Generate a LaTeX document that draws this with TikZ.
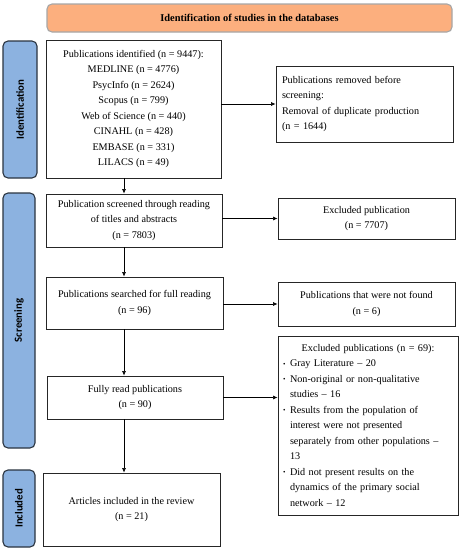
\documentclass[tikz,border=0pt]{standalone}
\usepackage{fontspec}
\setmainfont{Liberation Serif}
\newfontfamily\labfont{Carlito}
\usetikzlibrary{arrows.meta}
\definecolor{orangefill}{HTML}{FCAF7E}
\definecolor{orangeedge}{HTML}{A6A6A6}
\definecolor{bluefill}{HTML}{8CB2E0}
\definecolor{blueedge}{HTML}{2A3440}
\newcommand{\smbul}{\makebox[7pt][l]{\raisebox{0.6pt}{\fontsize{7}{7}\selectfont •}}}
\begin{document}
\begin{tikzpicture}[x=1pt,y=-1pt,
  box/.style={draw=black!85, line width=0.9pt, align=center, inner sep=0pt,
    font=\fontsize{10.2}{15.5}\selectfont},
  side/.style={draw=blueedge, fill=bluefill, rounded corners=5pt, line width=1.1pt},
  lab/.style={rotate=90, font=\labfont\fontsize{10.8}{12}\selectfont\bfseries},
  arr/.style={-{Latex[length=4.5pt,width=4pt]}, line width=0.6pt},
  banner/.style={draw=orangeedge, fill=orangefill, rounded corners=5pt, line width=1.1pt,
    font=\fontsize{10.4}{12}\selectfont\bfseries}
]
\useasboundingbox (0,0) rectangle (462,550);

% banner
\node[banner, minimum width=405pt, minimum height=28pt, inner sep=0pt] (top) at (249.5,18)
  {Identification of studies in the databases};

% side labels
\node[side, minimum width=34pt, minimum height=137pt, inner sep=0pt] (s1) at (20,109.5) {};
\node[lab] (l1) at (s1.center) {Identification};
\node[side, minimum width=32pt, minimum height=255pt, inner sep=0pt] (s2) at (19,320.5) {};
\node[lab] (l2) at (s2.center) {Screening};
\node[side, minimum width=32pt, minimum height=77pt, inner sep=0pt] (s3) at (19,508.5) {};
\node[lab] (l3) at (s3.center) {Included};

% main column
\node[box, minimum width=175pt, minimum height=138pt] (b1) at (133.5,109)
  {Publications identified (n = 9447):\\ MEDLINE (n = 4776)\\ PsycInfo (n = 2624)\\
   Scopus (n = 799)\\ Web of Science (n = 440)\\ CINAHL (n = 428)\\ EMBASE (n = 331)\\ LILACS (n = 49)};
\node[box, minimum width=176pt, minimum height=53pt] (b2) at (134,220.5)
  {Publication screened through reading\\ of titles and abstracts\\ (n = 7803)};
\node[box, minimum width=177pt, minimum height=52pt] (b3) at (134.5,303)
  {Publications searched for full reading\\ (n = 96)};
\node[box, minimum width=176pt, minimum height=43pt] (b4) at (135,397.5)
  {Fully read publications\\ (n = 90)};
\node[box, minimum width=177pt, minimum height=73pt] (b5) at (131.5,509.5)
  {Articles included in the review\\ (n = 21)};

% right column
\node[box, align=left, text width=165pt, inner xsep=6pt, minimum height=76pt] (rem) at (364.5,104)
  {Publications removed before\\ screening:\\ Removal of duplicate production\\ (n = 1644)};
\node[box, minimum width=177pt, minimum height=41pt] (ex1) at (366.5,218.5)
  {Excluded publication\\ (n = 7707)};
\node[box, minimum width=177pt, minimum height=44pt] (nf) at (366.5,304)
  {Publications that were not found\\ (n = 6)};
\node[box, align=left, text width=170pt, inner xsep=5pt, minimum height=179pt] (ex2) at (368,425.5)
  {\makebox[170pt][c]{Excluded publications (n = 69):}\\
   \smbul Gray Literature – 20\\
   \smbul Non-original or non-qualitative\\
   \hspace*{7pt}studies – 16\\
   \smbul Results from the population of\\
   \hspace*{7pt}interest were not presented\\
   \hspace*{7pt}separately from other populations –\\
   \hspace*{7pt}13\\
   \smbul Did not present results on the\\
   \hspace*{7pt}dynamics of the primary social\\
   \hspace*{7pt}network – 12};

% connectors
\coordinate (xc) at (124,0);
\draw[arr] (b1.south -| xc) -- (b2.north -| xc);
\draw[arr] (b2.south -| xc) -- (b3.north -| xc);
\draw[arr] (b3.south -| xc) -- (b4.north -| xc);
\draw[arr] (b4.south -| xc) -- (b5.north -| xc);
\draw[arr] (b1.east |- rem.west) -- (rem.west);
\draw[arr] (b2.east |- ex1.west) -- (ex1.west);
\draw[arr] (b3.east |- nf.west) -- (nf.west);
\draw[arr] (b4.east) -- (ex2.west |- b4.east);
\end{tikzpicture}
\end{document}
